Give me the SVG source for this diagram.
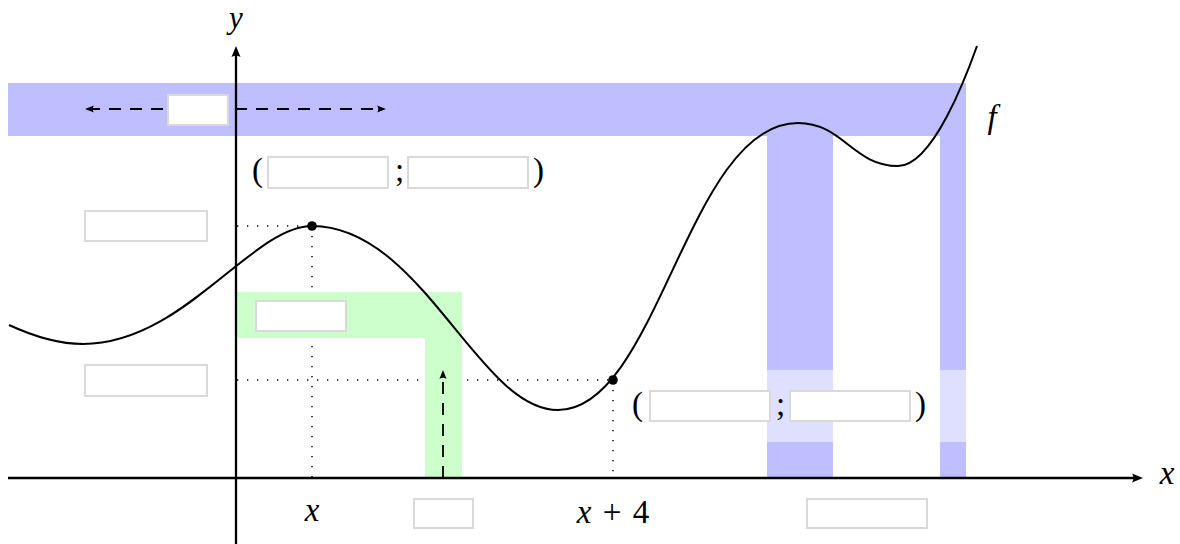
<svg xmlns="http://www.w3.org/2000/svg" width="1180" height="544" viewBox="0 0 1180 544">
<style>
.box{fill:#ffffff;stroke:#d9d9d9;stroke-width:2}
.blue{fill:#bfbfff}
.green{fill:#ccffcc}
.dot{fill:none;stroke:#000;stroke-width:1.5;stroke-dasharray:1.3 8.7;stroke-linecap:butt}
.dash{fill:none;stroke:#000;stroke-width:1.8;stroke-dasharray:12 9}
.axis{fill:none;stroke:#000;stroke-width:2.3}
.curve{fill:none;stroke:#000;stroke-width:2}
.var{font-family:"Liberation Serif","Times New Roman",serif;font-style:italic;font-size:33px;fill:#000}
.rm{font-family:"Liberation Serif","Times New Roman",serif;font-size:33px;fill:#000}
</style>
<defs>
<marker id="ax" markerUnits="userSpaceOnUse" markerWidth="16" markerHeight="12" viewBox="-8 -6 16 12" refX="0" refY="0" orient="auto-start-reverse">
<path d="M 4,0 L -7,-4.5 Q -4,0 -7,4.5 Z" fill="#000"/>
</marker>
<marker id="sm" markerUnits="userSpaceOnUse" markerWidth="14" markerHeight="10" viewBox="-7 -5 14 10" refX="0" refY="0" orient="auto-start-reverse">
<path d="M 3,0 L -6,-3.6 Q -3.5,0 -6,3.6 Z" fill="#000"/>
</marker>
</defs>

<g id="guides">
<line class="dot" x1="237" y1="226" x2="312" y2="226"/>
<line class="dot" x1="312" y1="226" x2="312" y2="478"/>
<line class="dot" x1="237" y1="380" x2="613" y2="380"/>
<line class="dot" x1="613" y1="380" x2="613" y2="478"/>
</g>

<g id="blue-band">
<rect class="blue" x="8" y="83" width="958" height="53"/>
<rect class="blue" x="767" y="136" width="66" height="342"/>
<rect class="blue" x="940" y="136" width="26" height="342"/>
<rect x="767" y="370" width="66" height="72" fill="#ffffff" fill-opacity="0.5"/>
<rect x="940" y="370" width="26" height="72" fill="#ffffff" fill-opacity="0.5"/>
</g>

<g id="green-band">
<rect class="green" x="237" y="292" width="225" height="46"/>
<rect class="green" x="425" y="338" width="37" height="140"/>
</g>

<g id="connectors">
<line id="x-axis" class="axis" x1="8" y1="478" x2="1139" y2="478" marker-end="url(#ax)"/>
<line id="y-axis" class="axis" x1="236" y1="544" x2="236" y2="50" marker-end="url(#ax)"/>
<path id="curve-f" class="curve" d="M 9,325 C 35,337 60,344 83,344 C 183,344 252,226 312,226 C 422,226 478,410 558,410 C 658,410 688,123 798,123 C 843,123 853,166 898,166 C 933,166 967,74 977,46"/>
<line id="arrow-horizontal" class="dash" x1="88" y1="109" x2="383" y2="109" marker-start="url(#sm)" marker-end="url(#sm)"/>
<line id="arrow-up" class="dash" x1="443" y1="478" x2="443" y2="373" marker-end="url(#sm)"/>
</g>

<g id="point-max"><circle cx="312" cy="226" r="4.8" fill="#000"/></g>
<g id="point-x4"><circle cx="613" cy="380" r="4.8" fill="#000"/></g>

<g id="box-band"><rect class="box" x="168" y="95" width="60" height="30"/></g>
<g id="coord-top">
<text class="rm" x="252" y="181">(</text>
<rect class="box" x="268" y="157" width="120" height="31"/>
<text class="rm" x="395" y="181">;</text>
<rect class="box" x="408" y="157" width="120" height="31"/>
<text class="rm" x="533" y="181">)</text>
</g>
<g id="coord-bottom">
<text class="rm" x="632" y="415">(</text>
<rect class="box" x="650" y="391" width="120" height="30"/>
<text class="rm" x="776" y="415">;</text>
<rect class="box" x="790" y="391" width="120" height="30"/>
<text class="rm" x="915" y="415">)</text>
</g>
<g id="box-left-top"><rect class="box" x="85" y="211" width="122" height="30"/></g>
<g id="box-left-bottom"><rect class="box" x="85" y="365" width="122" height="31"/></g>
<g id="box-green"><rect class="box" x="256" y="301" width="90" height="30"/></g>
<g id="box-bottom-mid"><rect class="box" x="414" y="499" width="59" height="29"/></g>
<g id="box-bottom-right"><rect class="box" x="807" y="499" width="120" height="29"/></g>

<g id="label-y"><text class="var" x="236" y="28" text-anchor="middle" style="font-size:31px">y</text></g>
<g id="label-xaxis"><text class="var" x="1167" y="484" text-anchor="middle">x</text></g>
<g id="label-f"><text class="var" x="992" y="128" text-anchor="middle">f</text></g>
<g id="label-x"><text class="var" x="312" y="521" text-anchor="middle">x</text></g>
<g id="label-x4"><text class="rm" x="613" y="523" text-anchor="middle"><tspan font-style="italic">x</tspan><tspan dx="3"> + </tspan><tspan dx="3">4</tspan></text></g>
</svg>
